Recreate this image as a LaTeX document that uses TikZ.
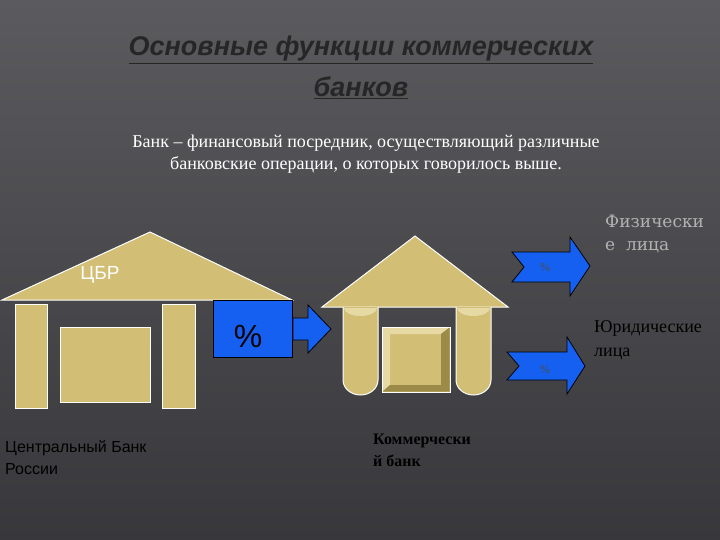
\documentclass[tikz,border=0pt]{standalone}
\usepackage{fontspec}
\setmainfont{Liberation Serif}
\newfontfamily\sans{Liberation Sans}
\newfontfamily\dserif{DejaVu Serif}
\begin{document}
\begin{tikzpicture}[x=1pt,y=-1pt,
  gold/.style={fill=gold1,draw=white,line width=1pt},
  blue/.style={fill=blue1,draw=black,line width=0.8pt},
  txt/.style={inner sep=0pt,anchor=north west,align=left}]
\definecolor{gold1}{HTML}{D2BE74}
\definecolor{gold2}{HTML}{E6D9A4}
\definecolor{gold3}{HTML}{9C8A48}
\definecolor{blue1}{HTML}{1560F0}
\definecolor{bg}{HTML}{3E3E42}
\definecolor{ttl}{HTML}{262626}
\useasboundingbox (0,0) rectangle (720,540);
\shade[top color=bg!85!white,bottom color=bg!90!black] (0,0) rectangle (720,540);
% title
\node (t1) at (361,50) {\sans\bfseries\itshape\fontsize{27}{28}\selectfont\color{ttl}\underline{Основные функции коммерческих}};
\node (t2) at (361,88) {\sans\bfseries\itshape\fontsize{27}{28}\selectfont\color{ttl}\underline{банков}};
\node[align=center,text=white,font=\fontsize{18}{22}\selectfont] (sub) at (366,154) {Банк – финансовый посредник, осуществляющий различные\\банковские операции, о которых говорилось выше.};
% left house
\draw[gold] (2,300) -- (150,232) -- (292,300) -- cycle;
\node[text=white,font=\sans\fontsize{19}{20}\selectfont] (cbr) at (100,275) {ЦБР};
\draw[gold] (15,304) rectangle (47,408);
\draw[gold] (162,304) rectangle (195,408);
\draw[gold] (60,327) rectangle (150,402);
\node[txt,font=\sans\fontsize{16}{22}\selectfont] (cb) at (5,440) {Центральный Банк\\России};
% blue square and arrow
\draw[blue] (213,300) rectangle (292,357);
\node[font=\sans\fontsize{32}{32}\selectfont] (pc) at (248,336) {\%};
\draw[blue] (293,318) -- (308,318) -- (308,305) -- (331,329) -- (308,353) -- (308,340) -- (293,340) -- cycle;
% middle house
\draw[gold] (322,307) -- (415,236) -- (508,307) -- cycle;
\foreach \a/\b in {343/378,456/491}{
  \draw[gold] (\a,307) -- (\a,380) arc[start angle=180,end angle=0,x radius={(\b-\a)/2},y radius=15] -- (\b,307);
  \fill[gold2] (\a+1,308) arc[start angle=180,end angle=0,x radius={(\b-\a)/2-1},y radius=8] -- cycle;
}
\draw[gold] (382,327) rectangle (450,392);
\fill[gold2] (382.5,327.5) -- (449.5,327.5) -- (441,334) -- (390,334) -- (390,385) -- (382.5,391.5) -- cycle;
\fill[gold3] (449.5,327.5) -- (449.5,391.5) -- (382.5,391.5) -- (390,385) -- (441,385) -- (441,334) -- cycle;
\draw[white,line width=1pt] (382,327) rectangle (450,392);
\node[txt,font=\bfseries\fontsize{16}{22}\selectfont] (kb) at (373,434) {Коммерчески\\й банк};
% right arrows
\draw[blue] (512,252) -- (570,252) -- (570,237) -- (590,266) -- (570,296) -- (570,282) -- (512,282) -- (524,267) -- cycle;
\node[font=\fontsize{12}{12}\selectfont,text=black!70] (p1) at (545,268) {\%};
\draw[blue] (507,352) -- (567,352) -- (567,337) -- (585,366) -- (567,394) -- (567,380) -- (507,380) -- (519,366) -- cycle;
\node[font=\fontsize{12}{12}\selectfont,text=black!70] (p2) at (545,370) {\%};
\node[txt,font=\dserif\fontsize{17}{23}\selectfont,text=gray!60!white] (fl) at (605,215) {Физически\\е\ \ лица};
\node[txt,font=\fontsize{18}{24}\selectfont] (yl) at (594,320) {Юридические\\лица};
\end{tikzpicture}
\end{document}
